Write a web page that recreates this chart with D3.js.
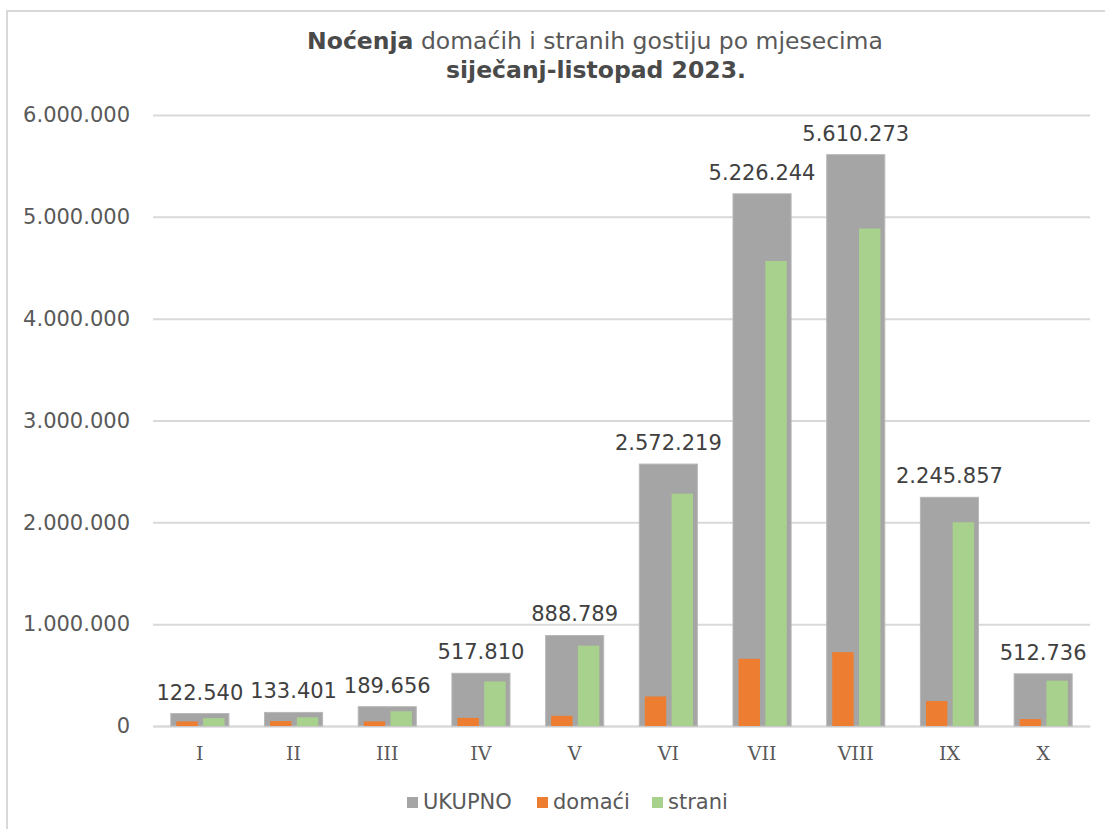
<!DOCTYPE html>
<html lang="hr">
<head>
<meta charset="UTF-8"/>
<title>Noćenja domaćih i stranih gostiju</title>
<script src="https://d3js.org/d3.v7.min.js"></script>
<style>
  body { margin: 0; background: #fff; }
  svg { display: block; font-family: "DejaVu Sans", Verdana, sans-serif; }
</style>
</head>
<body>
<script>
    // data
    var months = ["I", "II", "III", "IV", "V", "VI", "VII", "VIII", "IX", "X"];
    var ukupno = [122540, 133401, 189656, 517810, 888789, 2572219, 5226244, 5610273, 2245857, 512736];
    var domaci = [45000, 48000, 45000, 80000, 100000, 290000, 660000, 725000, 245000, 68000];
    var strani = [77540, 85401, 144656, 437810, 788789, 2282219, 4566244, 4885273, 2000857, 444736];
    var yTicks = [0, 1000000, 2000000, 3000000, 4000000, 5000000, 6000000];

    var seriesNames = ["UKUPNO", "domaći", "strani"];
    var colors = ["#a5a5a5", "#ed7d31", "#a9d18e"];

    var w = 1105, h = 829;

    var svg = d3.select("body")
                .append("svg")
                .attr("width", w)
                .attr("height", h);

    // chart frame (only top and left edges are visible)
    svg.append("rect")
        .attr("x", 7)
        .attr("y", 11)
        .attr("width", w + 20)
        .attr("height", h + 20)
        .attr("fill", "none")
        .attr("stroke", "#d9d9d9")
        .attr("stroke-width", 2);

    // number format with dots as thousands separator
    var hr = d3.formatLocale({ decimal: ",", thousands: ".", grouping: [3], currency: ["", " €"] });
    var fmt = hr.format(",d");

    //scales
    var xScale = d3.scaleBand()
                    .domain(months)
                    .range([153, 1090]);

    var yScale = d3.scaleLinear()
                    .domain([0, 6000000])
                    .range([726, 115]);

    var bigW = xScale.bandwidth() * 0.62;
    var subScale = d3.scaleBand()
                    .domain(["domaći", "strani"])
                    .range([-bigW * 0.405, bigW * 0.425])
                    .paddingInner(0.2);

    //y axis with gridlines
    var yAxis = d3.axisLeft(yScale)
                    .tickValues(yTicks)
                    .tickSize(-(1090 - 153))
                    .tickPadding(23)
                    .tickFormat(fmt);

    var gy = svg.append("g")
        .attr("transform", "translate(153, 0)")
        .call(yAxis);
    gy.select(".domain").remove();
    gy.selectAll(".tick line").attr("stroke", "#d9d9d9").attr("stroke-width", 2);
    gy.selectAll(".tick text")
        .attr("fill", "#595959")
        .style("font-size", "21px")
        .style("font-family", "'DejaVu Sans', Verdana, sans-serif");

    //x axis labels
    var xAxis = d3.axisBottom(xScale).tickSize(0).tickPadding(21);
    var gx = svg.append("g")
        .attr("transform", "translate(0, 726)")
        .call(xAxis);
    gx.select(".domain").attr("stroke", "#d9d9d9").attr("stroke-width", 2);
    gx.selectAll(".tick text")
        .attr("fill", "#595959")
        .style("font-size", "19px")
        .style("font-family", "'DejaVu Serif', Cambria, serif");

    //total bars
    svg.append("g").selectAll("rect")
        .data(months)
        .enter()
        .append("rect")
        .attr("x", function(d) { return xScale(d) + (xScale.bandwidth() - bigW) / 2; })
        .attr("y", function(d, i) { return yScale(ukupno[i]); })
        .attr("width", bigW)
        .attr("height", function(d, i) { return yScale(0) - yScale(ukupno[i]); })
        .attr("fill", colors[0])
        .attr("stroke", "#b8b8b8")
        .attr("stroke-width", 1);

    //domaci and strani bars
    var inner = [domaci, strani];
    ["domaći", "strani"].forEach(function(name, k) {
        svg.append("g").selectAll("rect")
            .data(months)
            .enter()
            .append("rect")
            .attr("x", function(d) { return xScale(d) + xScale.bandwidth() / 2 + subScale(name); })
            .attr("y", function(d, i) { return yScale(inner[k][i]); })
            .attr("width", subScale.bandwidth())
            .attr("height", function(d, i) { return yScale(0) - yScale(inner[k][i]); })
            .attr("fill", colors[k + 1]);
    });

    //value labels for totals
    svg.append("g").selectAll("text")
        .data(months)
        .enter()
        .append("text")
        .attr("x", function(d) { return xScale(d) + xScale.bandwidth() / 2; })
        .attr("y", function(d, i) { return yScale(ukupno[i]) - 14; })
        .attr("text-anchor", "middle")
        .attr("fill", "#404040")
        .style("font-size", "21px")
        .text(function(d, i) { return fmt(ukupno[i]); });

    //title
    var title = svg.append("text")
        .attr("x", 595)
        .attr("y", 49)
        .attr("text-anchor", "middle")
        .attr("fill", "#595959")
        .style("font-size", "23.5px");
    title.append("tspan").attr("font-weight", "bold").attr("fill", "#4a4a4a").text("Noćenja");
    title.append("tspan").text(" domaćih i stranih gostiju po mjesecima");

    svg.append("text")
        .attr("x", 596)
        .attr("y", 78)
        .attr("text-anchor", "middle")
        .attr("fill", "#4a4a4a")
        .attr("font-weight", "bold")
        .style("font-size", "23.5px")
        .text("siječanj-listopad 2023.");

    //legend
    var legendX = [407, 537, 652];
    var legend = svg.append("g").selectAll("g")
        .data(seriesNames)
        .enter()
        .append("g")
        .attr("transform", function(d, i) { return "translate(" + legendX[i] + ", 797)"; });
    legend.append("rect")
        .attr("width", 11)
        .attr("height", 11)
        .attr("fill", function(d, i) { return colors[i]; });
    legend.append("text")
        .attr("x", 16)
        .attr("y", 12)
        .attr("fill", "#595959")
        .style("font-size", "21px")
        .text(function(d) { return d; });
</script>
</body>
</html>
